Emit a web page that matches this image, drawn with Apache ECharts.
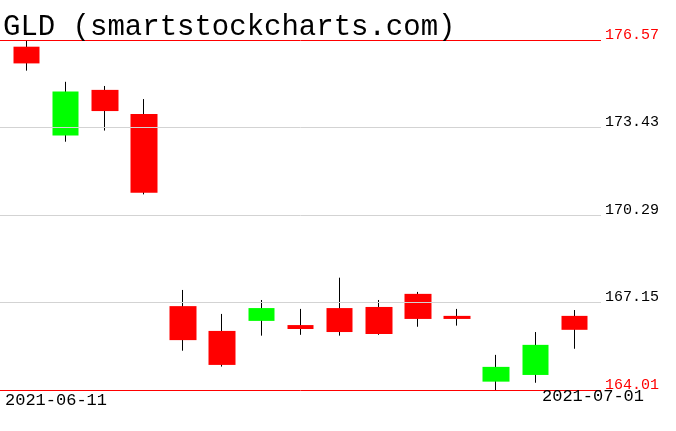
<!DOCTYPE html>
<html>
<head>
<meta charset="utf-8">
<script src="https://cdn.jsdelivr.net/npm/echarts@6/dist/echarts.min.js"></script>
<style>html,body{margin:0;padding:0;background:#fff;}#c{width:676px;height:431px;}</style>
</head>
<body>
<div id="c"></div>
<script>
const titleText = 'GLD (smartstockcharts.com)';
const dates  = ['2021-06-11','2021-06-14','2021-06-15','2021-06-16','2021-06-17','2021-06-18','2021-06-21','2021-06-22','2021-06-23','2021-06-24','2021-06-25','2021-06-28','2021-06-29','2021-06-30','2021-07-01'];
const opens  = [176.33, 173.14, 174.78, 173.91, 167.02, 166.13, 166.49, 166.34, 166.95, 166.99, 167.46, 166.67, 164.31, 164.55, 166.67];
const closes = [175.73, 174.72, 174.02, 171.09, 165.80, 164.91, 166.95, 166.20, 166.09, 166.02, 166.56, 166.56, 164.84, 165.63, 166.17];
const lows   = [175.47, 172.92, 173.32, 171.03, 165.42, 164.85, 165.96, 165.99, 165.96, 165.99, 166.28, 166.32, 164.01, 164.27, 165.49];
const highs  = [176.57, 175.07, 174.92, 174.45, 167.60, 166.74, 167.24, 166.92, 168.04, 167.24, 167.53, 166.92, 165.27, 166.09, 166.88];
const priceTicks = [176.57, 173.43, 170.29, 167.15, 164.01];
const edgeLabels = [dates[0], dates[dates.length - 1]];

const wickData = dates.map((d, i) => [i, opens[i], closes[i], lows[i], highs[i]]);
const bodyData = dates.map((d, i) => [i, opens[i], closes[i], Math.min(opens[i], closes[i]), Math.max(opens[i], closes[i])]);

const font = 'Liberation Mono';
const last = priceTicks.length - 1;
const chart = echarts.init(document.getElementById('c'), null, {renderer: 'canvas'});
chart.setOption({
  animation: false,
  backgroundColor: '#ffffff',
  title: [
    {text: titleText, left: 3, top: 13, padding: 0,
     textStyle: {fontFamily: font, fontSize: 29, fontWeight: 'normal', color: '#000'}},
    {text: edgeLabels[0], left: 5, top: 392, padding: 0,
     textStyle: {fontFamily: font, fontSize: 17, fontWeight: 'normal', color: '#000'}},
    {text: edgeLabels[1], left: 542, top: 388, padding: 0,
     textStyle: {fontFamily: font, fontSize: 17, fontWeight: 'normal', color: '#000'}}
  ],
  grid: {left: 0, width: 601, top: 40, height: 350},
  xAxis: {type: 'value', min: -0.677, max: 14.677, show: false, splitLine: {show: false}},
  yAxis: {type: 'value', min: priceTicks[last], max: priceTicks[0], show: false, splitLine: {show: false}},
  series: [
    {
      type: 'candlestick',
      name: 'wick',
      data: wickData,
      encode: {x: 0, y: [1, 2, 3, 4]},
      barWidth: 1,
      itemStyle: {color: '#000', color0: '#000', borderColor: '#000', borderColor0: '#000', borderWidth: 1}
    },
    {
      type: 'candlestick',
      name: 'body',
      data: bodyData,
      encode: {x: 0, y: [1, 2, 3, 4]},
      barWidth: 27,
      itemStyle: {color: '#00ff00', color0: '#ff0000', borderColor: '#00ff00', borderColor0: '#ff0000', borderWidth: 0},
      markLine: {
        silent: true,
        symbol: ['none', 'none'],
        animation: false,
        lineStyle: {type: 'solid', width: 1},
        label: {position: 'end', distance: 4, fontFamily: font, fontSize: 15,
                formatter: p => '{t|' + Number(p.value).toFixed(2) + '}',
                rich: {t: {fontFamily: font, fontSize: 15, padding: [0, 0, 10, 0]}}},
        data: priceTicks.map((v, i) => {
          const edge = (i === 0 || i === last);
          return {yAxis: v,
                  lineStyle: {color: edge ? '#ff0000' : '#d3d3d3'},
                  label: {color: edge ? '#ff0000' : '#000000'}};
        })
      }
    }
  ]
});
</script>
</body>
</html>
